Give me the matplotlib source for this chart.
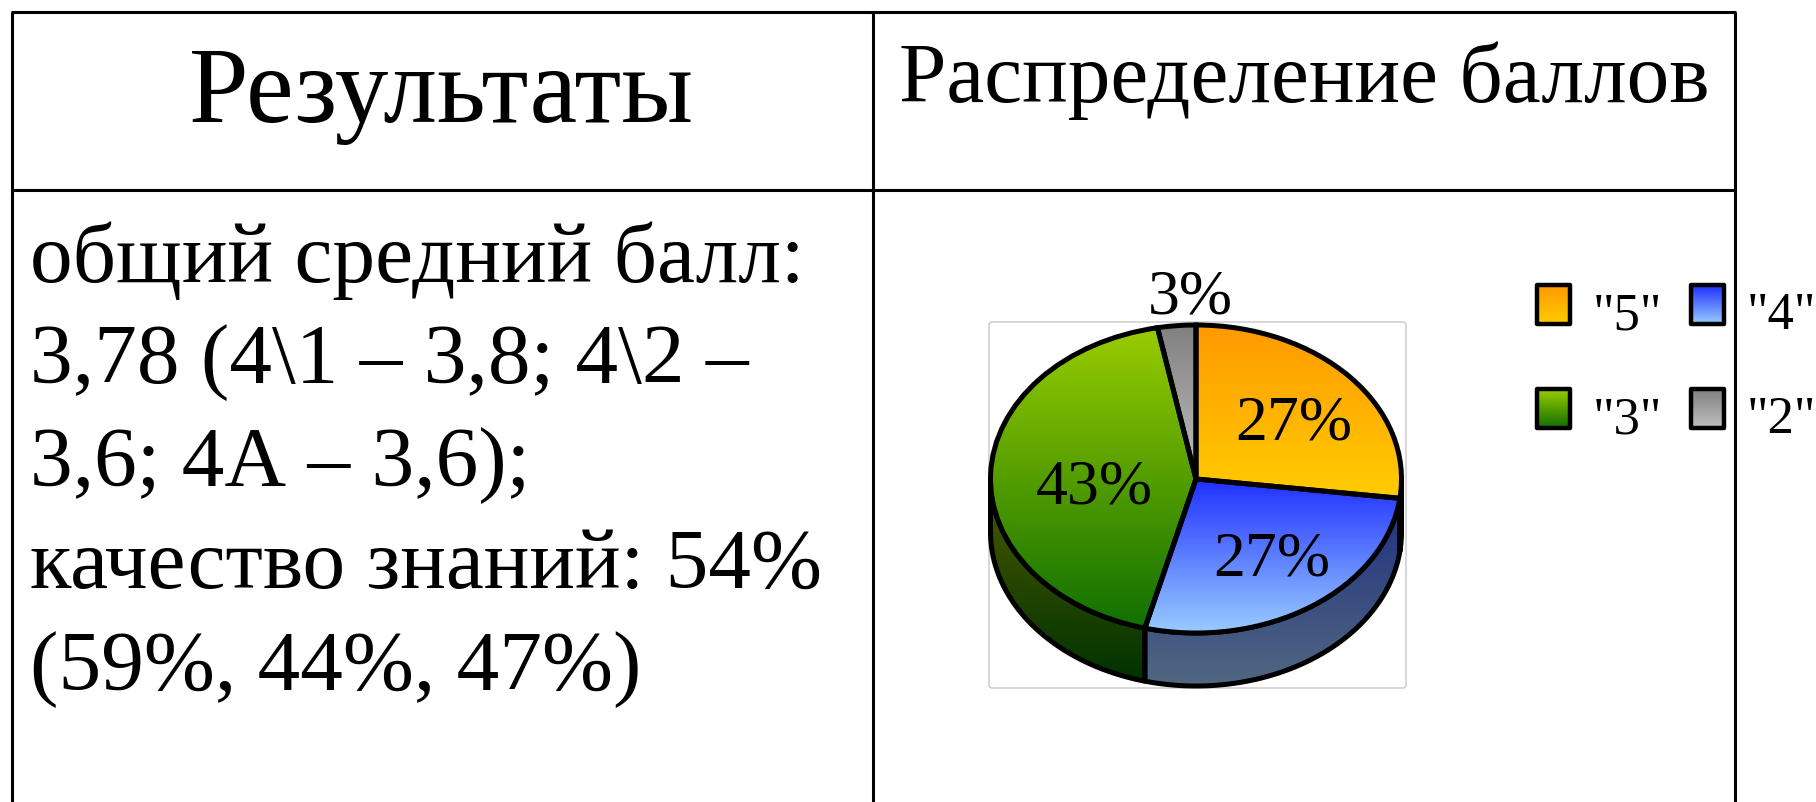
import numpy as np
import matplotlib
matplotlib.use("Agg")
import matplotlib.pyplot as plt
from matplotlib.colors import LinearSegmentedColormap
from matplotlib.patches import Polygon, Rectangle, FancyBboxPatch

plt.rcParams["font.family"] = ["Liberation Serif", "DejaVu Serif"]

W, H = 1816, 802

labels = ['"5"', '"4"', '"3"', '"2"']
values = [27, 27, 43, 3]
pct_labels = ["27%", "27%", "43%", "3%"]

top_colors = [("#FF9900", "#FFCC00"), ("#2030FF", "#99CCFF"),
              ("#99CC00", "#107000"), ("#808080", "#C0C0C0")]
side_colors = [("#403000", "#201000"), ("#202F80", "#506880"),
               ("#4D5A00", "#003300"), ("#404040", "#606060")]

head_left = "Результаты"
head_right = "Распределение баллов"
body_lines = [
    "общий средний балл:",
    "3,78 (4\\1 – 3,8; 4\\2 –",
    "3,6; 4А – 3,6);",
    "качество знаний: 54%",
    "(59%, 44%, 47%)",
]


def gradient(ax, patch, c1, c2):
    # vertical gradient clipped to the patch
    cmap = LinearSegmentedColormap.from_list("g", [c1, c2])
    box = patch.get_path().transformed(patch.get_patch_transform()).get_extents()
    im = ax.imshow(np.linspace(0, 1, 128).reshape(-1, 1), cmap=cmap, aspect="auto",
                   extent=[box.x0, box.x1, box.y0, box.y1], origin="upper",
                   zorder=patch.get_zorder() - 0.1)
    im.set_clip_path(patch)


fig = plt.figure(figsize=(W / 100, H / 100), dpi=100)

# page layer in pixel coordinates
page = fig.add_axes([0, 0, 1, 1])
page.set_xlim(0, W)
page.set_ylim(H, 0)
page.axis("off")

# table rules
for x in [12, 873, 1735]:
    page.plot([x, x], [12, H], color="black", lw=2.2, solid_capstyle="butt")
for y in [12, 190]:
    page.plot([11, 1736], [y, y], color="black", lw=2.2, solid_capstyle="butt")

page.text(441, 122, head_left, fontsize=77, ha="center", va="baseline")
page.text(1304, 102, head_right, fontsize=61.4, ha="center", va="baseline")

body_y = [282, 383, 486, 588, 690]
for txt, y in zip(body_lines, body_y):
    page.text(30, y, txt, fontsize=61.5, ha="left", va="baseline")

# chart frame
page.add_patch(FancyBboxPatch((989, 322), 417, 366, boxstyle="round,pad=0,rounding_size=3",
                              fc="white", ec="#C8C8C8", lw=1))

# pie, flattened by the axes shape
rx, ry, depth = 205.5, 154.0, 53.0
cx, cy = 1196.0, 479.0
pie_ax = fig.add_axes([(cx - rx) / W, 1 - (cy + ry + depth) / H,
                       2 * rx / W, (2 * ry + depth) / H])
pie_ax.patch.set_alpha(0)
wedges, _ = pie_ax.pie(values, startangle=90, counterclock=False, radius=1,
                       wedgeprops=dict(fc="none", ec="black", lw=3.6, zorder=5))
d = depth / ry

for w, (c1, c2) in zip(wedges, top_colors):
    gradient(pie_ax, w, c1, c2)

# side wall: lower half of every slice pushed down
for w, (c1, c2) in zip(wedges, side_colors):
    t1 = w.theta1 % 360
    t2 = t1 + (w.theta2 - w.theta1)
    for k in [0, 360]:
        a = max(t1 + k, 180)
        b = min(t2 + k, 360)
        if b <= a:
            continue
        th = np.radians(np.linspace(a, b, 80))
        xs, ys = np.cos(th), np.sin(th)
        pts = np.r_[np.c_[xs, ys], np.c_[xs, ys - d][::-1]]
        wall = Polygon(pts, closed=True, fc="none", ec="black", lw=3.6, zorder=4,
                       joinstyle="round")
        pie_ax.add_patch(wall)
        gradient(pie_ax, wall, c1, c2)

pie_ax.set_aspect("auto")
pie_ax.set_xlim(-1, 1)
pie_ax.set_ylim(-1 - d, 1)
pie_ax.axis("off")
for art in pie_ax.get_children():
    art.set_clip_on(art.get_clip_path() is not None)

# labels on top of the pie
over = fig.add_axes([0, 0, 1, 1])
over.set_xlim(0, W)
over.set_ylim(H, 0)
over.axis("off")
over.patch.set_alpha(0)

pct_pos = [(1294, 440), (1272, 575), (1094, 503), (1190, 314)]
for txt, (x, y) in zip(pct_labels, pct_pos):
    over.text(x, y, txt, fontsize=46, ha="center", va="baseline")

# legend
leg_pos = [(1535, 283), (1689, 283), (1535, 387), (1689, 387)]
for lab, (c1, c2), (x, y) in zip(labels, top_colors, leg_pos):
    box = Rectangle((x + 2, y + 2), 33, 39, fc="none", ec="black", lw=3.2, zorder=5,
                    joinstyle="round")
    over.add_patch(box)
    cmap = LinearSegmentedColormap.from_list("g", [c1, c2])
    im = over.imshow(np.linspace(0, 1, 64).reshape(-1, 1), cmap=cmap, aspect="auto",
                     extent=[x + 2, x + 35, y + 41, y + 2], origin="upper", zorder=4)
    over.text(x + 58, y + 46, lab, fontsize=38, ha="left", va="baseline")
over.set_xlim(0, W)
over.set_ylim(H, 0)

fig.savefig("out.png", dpi=100)
